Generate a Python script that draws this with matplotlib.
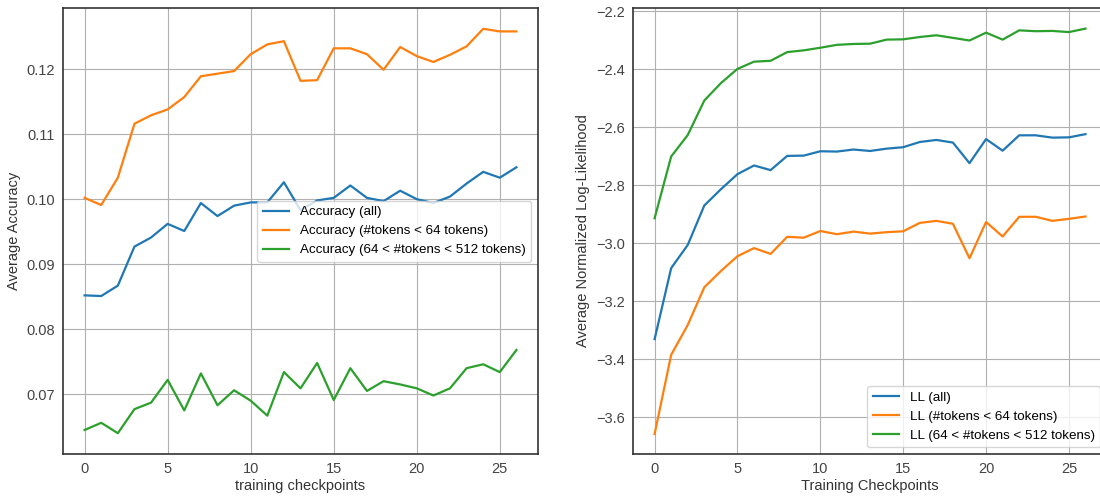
import numpy as np
import matplotlib
matplotlib.use('Agg')
from matplotlib import pyplot as plt

plt.rcParams['font.family'] = ['Liberation Sans', 'DejaVu Sans']

checkpoints = list(range(27))

acc_all = [0.0852, 0.0851, 0.0867, 0.0927, 0.0941, 0.0962, 0.0951, 0.0994, 0.0974, 0.0990,
           0.0995, 0.0995, 0.1026, 0.0983, 0.0998, 0.1002, 0.1021, 0.1002, 0.0997, 0.1013,
           0.1000, 0.0994, 0.1004, 0.1024, 0.1042, 0.1033, 0.1049]
acc_short = [0.1002, 0.0991, 0.1033, 0.1116, 0.1129, 0.1138, 0.1157, 0.1189, 0.1193, 0.1197,
             0.1223, 0.1238, 0.1243, 0.1182, 0.1183, 0.1232, 0.1232, 0.1223, 0.1199, 0.1234,
             0.1220, 0.1211, 0.1222, 0.1235, 0.1262, 0.1258, 0.1258]
acc_long = [0.0645, 0.0656, 0.0640, 0.0677, 0.0687, 0.0722, 0.0675, 0.0732, 0.0683, 0.0706,
            0.0690, 0.0667, 0.0734, 0.0709, 0.0748, 0.0691, 0.0740, 0.0705, 0.0720, 0.0715,
            0.0709, 0.0698, 0.0709, 0.0740, 0.0746, 0.0734, 0.0768]

ll_all = [-3.331, -3.086, -3.006, -2.870, -2.814, -2.762, -2.732, -2.748, -2.699, -2.698,
          -2.683, -2.684, -2.677, -2.682, -2.674, -2.669, -2.651, -2.644, -2.653, -2.724,
          -2.641, -2.681, -2.628, -2.628, -2.636, -2.635, -2.624]
ll_short = [-3.658, -3.385, -3.282, -3.152, -3.096, -3.045, -3.017, -3.037, -2.978, -2.981,
            -2.958, -2.969, -2.960, -2.967, -2.962, -2.959, -2.930, -2.923, -2.933, -3.052,
            -2.927, -2.977, -2.909, -2.909, -2.923, -2.916, -2.908]
ll_long = [-2.914, -2.701, -2.627, -2.508, -2.448, -2.399, -2.374, -2.371, -2.341, -2.335,
           -2.326, -2.316, -2.313, -2.312, -2.298, -2.297, -2.289, -2.283, -2.292, -2.301,
           -2.274, -2.298, -2.266, -2.269, -2.268, -2.272, -2.260]

fig = plt.figure(figsize=(11, 5.01), dpi=100)
ax1 = fig.add_axes([0.0573, 0.0938, 0.4318, 0.8902])
ax2 = fig.add_axes([0.5755, 0.0938, 0.4309, 0.8902])

for ax in (ax1, ax2):
    ax.grid(True, color='#b0b0b0', linewidth=0.8)
    ax.set_axisbelow(True)
    for s in ax.spines.values():
        s.set_color('#333333')
        s.set_linewidth(1.2)
    ax.tick_params(length=0, labelsize=10.5, labelcolor='#444444', pad=6)

# ---- left: accuracy
ax1.plot(checkpoints, acc_all, color='#1f77b4', lw=1.6, label='Accuracy (all)')
ax1.plot(checkpoints, acc_short, color='#ff7f0e', lw=1.6, label='Accuracy (#tokens < 64 tokens)')
ax1.plot(checkpoints, acc_long, color='#2ca02c', lw=1.6, label='Accuracy (64 < #tokens < 512 tokens)')
ax1.set_ylim(0.0608, 0.1294)
ax1.set_yticks([0.07, 0.08, 0.09, 0.10, 0.11, 0.12])
ax1.set_xticks([0, 5, 10, 15, 20, 25])
ax1.set_xlabel('training checkpoints', fontsize=10.5, color='#333333', labelpad=2)
ax1.set_ylabel('Average Accuracy', fontsize=10.5, color='#333333')
ax1.legend(loc='center right', fontsize=9.6, frameon=True, facecolor='white',
           edgecolor='#cccccc', framealpha=0.8)

# ---- right: log-likelihood
ax2.plot(checkpoints, ll_all, color='#1f77b4', lw=1.6, label='LL (all)')
ax2.plot(checkpoints, ll_short, color='#ff7f0e', lw=1.6, label='LL (#tokens < 64 tokens)')
ax2.plot(checkpoints, ll_long, color='#2ca02c', lw=1.6, label='LL (64 < #tokens < 512 tokens)')
ax2.set_ylim(-3.727, -2.189)
ax2.set_yticks([-3.6, -3.4, -3.2, -3.0, -2.8, -2.6, -2.4, -2.2])
ax2.set_xticks([0, 5, 10, 15, 20, 25])
ax2.set_xlabel('Training Checkpoints', fontsize=10.5, color='#333333', labelpad=2)
ax2.set_ylabel('Average Normalized Log-Likelihood', fontsize=10.5, color='#333333')
ax2.legend(loc='lower right', fontsize=9.6, frameon=True, facecolor='white',
           edgecolor='#cccccc', framealpha=0.8)

fig.savefig('out.png', dpi=100)
